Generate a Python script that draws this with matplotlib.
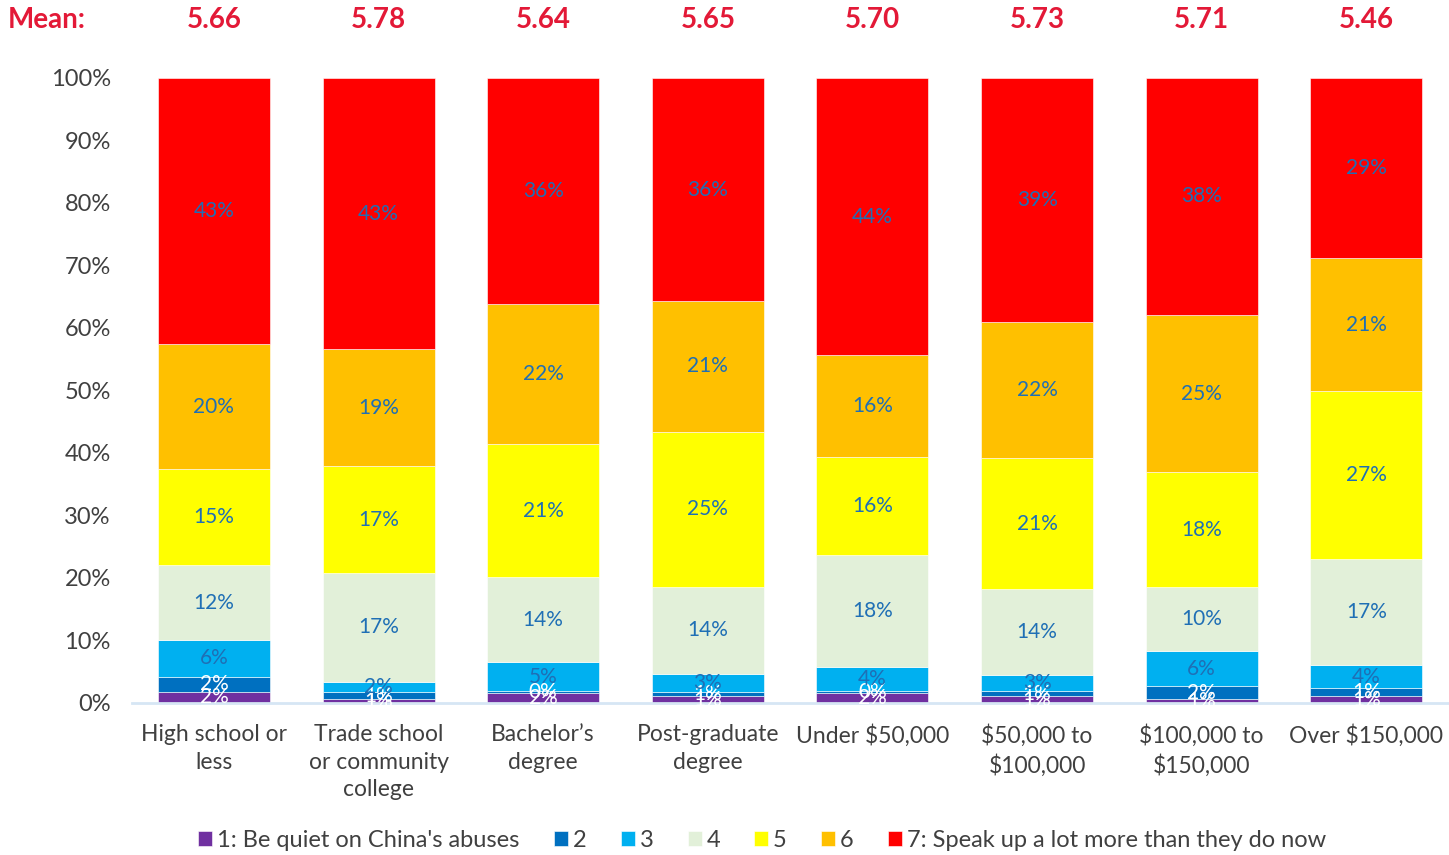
import matplotlib.pyplot as plt
import numpy as np

categories = ["High school or\nless", "Trade school\nor community\ncollege", "Bachelor\u2019s\ndegree",
              "Post-graduate\ndegree", "Under $50,000", "$50,000 to\n$100,000", "$100,000 to\n$150,000",
              "Over $150,000"]
means = ["5.66", "5.78", "5.64", "5.65", "5.70", "5.73", "5.71", "5.46"]

legend_labels = ["1: Be quiet on China's abuses", "2", "3", "4", "5", "6",
                 "7: Speak up a lot more than they do now"]

s1 = [1.8, 0.6, 1.6, 1.1, 1.6, 1.1, 0.6, 1.1]
s2 = [2.4, 1.1, 0.3, 0.6, 0.3, 0.8, 2.1, 1.3]
s3 = [5.9, 1.7, 4.6, 2.9, 3.8, 2.6, 5.6, 3.6]
s4 = [11.9, 17.4, 13.6, 14.0, 18.0, 13.7, 10.2, 17.0]
s5 = [15.4, 17.1, 21.3, 24.8, 15.7, 21.0, 18.4, 26.9]
s6 = [20.0, 18.7, 22.4, 20.9, 16.2, 21.8, 25.2, 21.3]
s7 = [42.6, 43.4, 36.2, 35.7, 44.4, 39.0, 37.9, 28.8]
series = [s1, s2, s3, s4, s5, s6, s7]

colors = ["#7030A0", "#0070C0", "#00B0F0", "#E2F0D9", "#FFFF00", "#FFC000", "#FF0000"]
label_colors = ["white", "white", "#1F6FB5", "#1F6FB5", "#1F6FB5", "#1F6FB5", "#1F6FB5"]

plt.rcParams['font.family'] = ['Lato', 'DejaVu Sans']

fig = plt.figure(figsize=(14.49, 8.55), dpi=100)
ax = fig.add_axes([0.0908, 0.1778, 0.909, 0.731])

x = np.arange(len(categories))
bottom = np.zeros(len(categories))
for i, vals in enumerate(series):
    vals = np.array(vals)
    ax.bar(x, vals, 0.68, bottom=bottom, color=colors[i], label=legend_labels[i],
           edgecolor='white', linewidth=0.4)
    for xi, v, b in zip(x, vals, bottom):
        ax.text(xi, b + v / 2, f"{v:.0f}%", ha='center', va='center',
                fontsize=15, color=label_colors[i])
    bottom += vals

ax.set_xlim(-0.5, 7.5)
ax.set_ylim(0, 100)
ax.set_yticks(range(0, 101, 10))
ax.set_yticklabels([f"{t}%" for t in range(0, 101, 10)], fontsize=17, color='#404040')
ax.set_xticks(x)
ax.set_xticklabels(categories, fontsize=16.5, color='#404040', va='top', linespacing=1.4)
ax.tick_params(axis='both', length=0)
ax.tick_params(axis='x', pad=15)
ax.tick_params(axis='y', pad=15)
for sp in ['top', 'right', 'left']:
    ax.spines[sp].set_visible(False)
ax.spines['bottom'].set_color('#D6E6F4')
ax.spines['bottom'].set_linewidth(2)

red = '#E31937'
fig.text(8 / 1449, 1 - 20 / 855, "Mean:", ha='left', va='center', fontsize=20,
         fontweight='bold', color=red)
for xi, m in zip(x, means):
    xf = ax.transData.transform((xi, 0))[0]
    fig.text(xf / fig.bbox.width, 1 - 20 / 855, m, ha='center', va='center', fontsize=20,
             fontweight='bold', color=red)

fig.legend(loc='center', bbox_to_anchor=(0.526, 1 - 840 / 855), ncol=7, frameon=False,
           fontsize=17, handlelength=0.6, handleheight=0.6, handletextpad=0.2,
           columnspacing=1.45, labelcolor='#404040')

fig.savefig("out.png", dpi=100)
